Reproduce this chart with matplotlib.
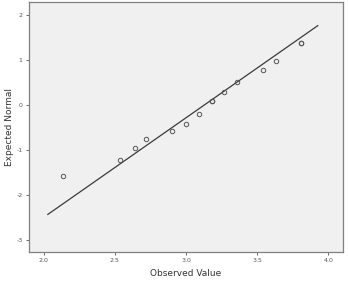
import matplotlib.pyplot as plt
import numpy as np

# Normal Q-Q plot values
observed = [2.14, 2.54, 2.64, 2.72, 2.90, 3.00, 3.09, 3.18, 3.18, 3.27, 3.36, 3.54, 3.63, 3.81, 3.81]
expected = [-1.59, -1.22, -0.97, -0.77, -0.59, -0.43, -0.21, 0.07, 0.07, 0.28, 0.51, 0.76, 0.97, 1.38, 1.38]

# reference line: expected = (x - mean) / sd
line_mean = 3.132
line_sd = 0.452
line_x = [2.03, 3.925]

x_ticks = [2.0, 2.5, 3.0, 3.5, 4.0]
y_ticks = [-3, -2, -1, 0, 1, 2]

fig = plt.figure(figsize=(3.48, 2.83), dpi=100)
ax = fig.add_axes([0.083, 0.11, 0.903, 0.883])
ax.set_facecolor('#f0f0f0')

lx = np.array(line_x)
ax.plot(lx, (lx - line_mean) / line_sd, color='#3a3a3a', linewidth=0.9)
ax.plot(observed, expected, 'o', markerfacecolor='none', markeredgecolor='#555555',
        markersize=3.2, markeredgewidth=0.7)

ax.set_xlim(1.897, 4.103)
ax.set_ylim(-3.27, 2.28)
ax.set_xticks(x_ticks)
ax.set_xticklabels([f'{v:.1f}' for v in x_ticks])
ax.set_yticks(y_ticks)
ax.set_yticklabels([str(v) for v in y_ticks])
ax.tick_params(labelsize=4.5, colors='#555555', length=2.5, width=0.6, pad=2)

for s in ax.spines.values():
    s.set_color('#808080')
    s.set_linewidth(0.9)

ax.set_xlabel('Observed Value', fontsize=6.5, color='#333333', labelpad=4)
ax.set_ylabel('Expected Normal', fontsize=6.5, color='#333333', labelpad=2)

fig.savefig('out.png', dpi=100)
